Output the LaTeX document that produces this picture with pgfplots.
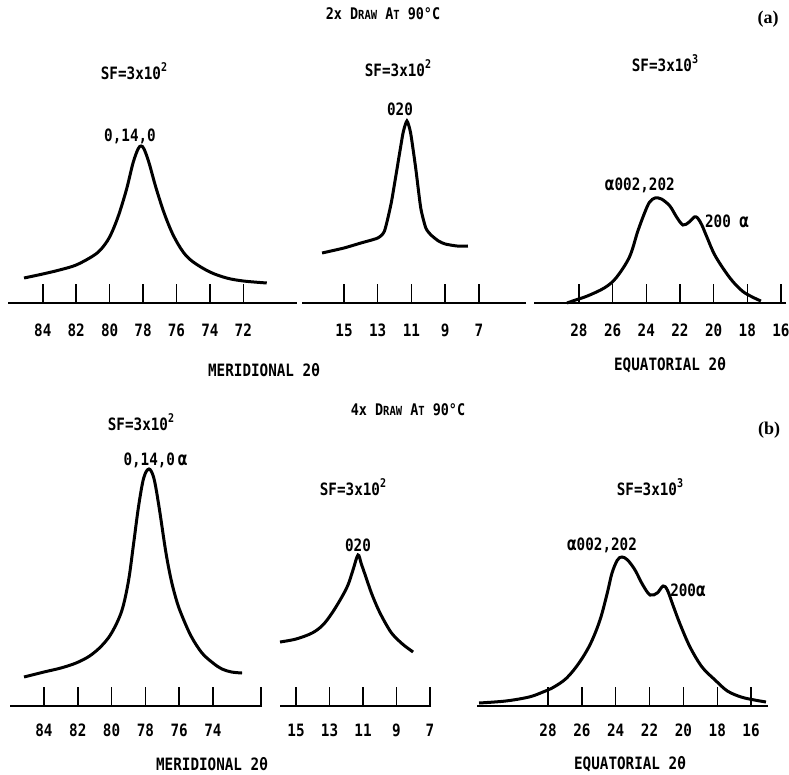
\documentclass[border=0pt]{standalone}
\usepackage{fontspec}
\usepackage{pgfplots}
\pgfplotsset{compat=1.18}
\newfontfamily\lab{DejaVu Sans Mono}[FakeStretch=0.84]
\newfontfamily\panelfont{Liberation Serif}
\newcommand\labsize{\lab\bfseries\fontsize{17}{19}\selectfont}
\newcommand\titlesize{\lab\bfseries\fontsize{16}{18}\selectfont}
\newcommand\smc[1]{{\fontsize{12.5}{12.5}\selectfont #1}}
\newcommand\sfval[1]{SF=3x10\raisebox{0.5em}{\fontsize{12}{12}\selectfont #1}}
\newcommand\al{{\fontsize{19}{19}\selectfont α}}

\tikzset{pk/.style={font=\labsize}}
\pgfplotsset{
  trace/.style={
    scale only axis, anchor=south west,
    axis x line*=bottom, axis y line=none,
    x dir=reverse, ymin=0, ymax=260, height=260pt,
    x axis line style={line width=2.8pt},
    xtick style={black, line width=1.5pt},
    tick align=inside, major tick length=19pt,
    /pgf/number format/assume math mode=true,
    xticklabel style={font=\labsize, anchor=center, yshift=-27pt},
    ytick=\empty, clip=false,
  },
  curve/.style={black, line width=3pt, smooth, tension=0.55, no marks},
}

\begin{document}
\begin{tikzpicture}
\path[use as bounding box] (0pt,0pt) rectangle (789pt,-775pt);

% ---------------- (a) 2x draw ----------------
\node[font=\titlesize] at (383pt,-14pt) {2x D\smc{RAW} A\smc{T} 90°C};
\node[font=\panelfont\bfseries\fontsize{18}{20}\selectfont] at (768pt,-19pt) {(a)};

% meridional
\begin{axis}[trace, at={(8pt,-303pt)}, width=289pt,
  xmin=68.79, xmax=86.08, xtick={84,82,80,78,76,74,72}]
\addplot[curve] coordinates {
 (85.12,25) (84.0,29) (83.0,33) (82.0,38) (81.0,47) (80.5,54) (80.0,66)
 (79.5,86) (79.0,113) (78.6,140) (78.3,154) (78.12,157) (77.94,154)
 (77.64,140) (77.24,116) (76.74,90) (76.2,68) (75.6,51) (75.0,41) (74.0,31)
 (73.0,25) (72.0,22) (70.6,20)};
\node[pk] at (axis cs:78.78,167) {0,14,0};
\end{axis}
\node[font=\labsize] at (134pt,-71pt) {\sfval{2}};
\node[font=\labsize] at (264pt,-370pt) {MERIDIONAL 2θ};

% 020
\begin{axis}[trace, at={(302pt,-303pt)}, width=224pt,
  xmin=4.21, xmax=17.49, xtick={15,13,11,9,7}]
\addplot[curve, tension=0.35] coordinates {
 (16.30,50) (15.0,55) (14.0,60) (13.0,65) (12.6,72) (12.2,100) (11.8,140)
 (11.5,170) (11.27,182) (11.05,170) (10.75,135) (10.45,95) (10.15,75)
 (9.84,68) (9.4,62) (9.0,59) (8.3,57) (7.65,57)};
\node[pk] at (axis cs:11.68,194) {020};
\end{axis}
\node[font=\labsize] at (398pt,-68pt) {\sfval{2}};

% equatorial
\begin{axis}[trace, at={(534pt,-303pt)}, width=252pt,
  xmin=15.70, xmax=30.67, xtick={28,26,24,22,20,18,16}]
\addplot[curve] coordinates {
 (28.71,0) (28.2,3) (27.5,7) (26.5,15) (25.8,25) (25.0,46) (24.5,72)
 (24.08,91) (23.8,101) (23.48,105) (23.1,104) (22.6,97) (22.2,86)
 (21.82,78) (21.45,81) (21.15,86) (20.95,85) (20.7,78) (20.4,66)
 (19.9,47) (19.03,25) (18.3,12) (17.7,6) (17.19,2)};
\node[pk] at (axis cs:24.38,118) {\al002,202};
\node[pk] at (axis cs:19.20,82) {200 \al};
\end{axis}
\node[font=\labsize] at (665pt,-63pt) {\sfval{3}};
\node[font=\labsize] at (670pt,-365pt) {EQUATORIAL 2θ};

% ---------------- (b) 4x draw ----------------
\node[font=\titlesize] at (408pt,-410pt) {4x D\smc{RAW} A\smc{T} 90°C};
\node[font=\panelfont\bfseries\fontsize{18}{20}\selectfont] at (769pt,-430pt) {(b)};

% meridional
\begin{axis}[trace, at={(10pt,-706pt)}, width=252pt,
  xmin=71.10, xmax=86.01, xtick={84,82,80,78,76,74},
  xticklabel style={yshift=3pt},
  extra x ticks={71.15}, extra x tick labels={}]
\addplot[curve] coordinates {
 (85.18,29) (84.0,34) (83.0,38) (82.1,43) (81.3,50) (80.6,60) (80.0,73)
 (79.4,95) (79.0,125) (78.7,162) (78.4,200) (78.1,228) (77.79,237)
 (77.5,228) (77.2,200) (76.8,155) (76.5,128) (76.2,108) (75.9,93)
 (75.3,70) (74.65,53) (74.0,43) (73.47,37) (72.9,34) (72.28,33)};
\node[pk] at (axis cs:77.40,246) {0,14,0\,\al};
\end{axis}
\node[font=\labsize] at (141pt,-422pt) {\sfval{2}};
\node[font=\labsize] at (212pt,-764pt) {MERIDIONAL 2θ};

% 020
\begin{axis}[trace, at={(280pt,-706pt)}, width=151pt,
  xmin=6.94, xmax=15.96, xtick={15,13,11,9,7},
  xticklabel style={yshift=3pt}]
\addplot[curve] coordinates {
 (15.96,64) (15.0,67) (14.04,73) (13.4,81) (12.85,93) (12.3,108)
 (11.9,121) (11.6,136) (11.3,151) (11.1,142) (10.85,130) (10.5,113)
 (10.1,97) (9.7,84) (9.3,73) (8.91,66) (8.5,60) (8.01,54)};
\node[pk] at (axis cs:11.30,161) {020};
\end{axis}
\node[font=\labsize] at (353pt,-487pt) {\sfval{2}};

% equatorial
\begin{axis}[trace, at={(477pt,-706pt)}, width=291pt,
  xmin=15.00, xmax=32.20, xtick={28,26,24,22,20,18,16},
  xticklabel style={yshift=3pt}]
\addplot[curve] coordinates {
 (32.08,3) (30.5,5) (29.12,9) (28.3,14) (27.65,19) (26.9,28) (26.17,43)
 (25.5,62) (24.93,86) (24.5,113) (24.22,133) (23.9,146) (23.63,149)
 (23.3,146) (22.86,136) (22.4,121) (21.97,111) (21.55,113) (21.2,120)
 (20.95,116) (20.6,100) (20.2,82) (19.61,59) (18.9,39) (18.13,26)
 (17.4,15) (16.59,9) (15.8,6) (15.12,4)};
\node[pk] at (axis cs:24.81,161) {\al002,202};
\node[pk] at (axis cs:19.73,116) {200\al};
\end{axis}
\node[font=\labsize] at (650pt,-487pt) {\sfval{3}};
\node[font=\labsize] at (630pt,-764pt) {EQUATORIAL 2θ};

\end{tikzpicture}
\end{document}
